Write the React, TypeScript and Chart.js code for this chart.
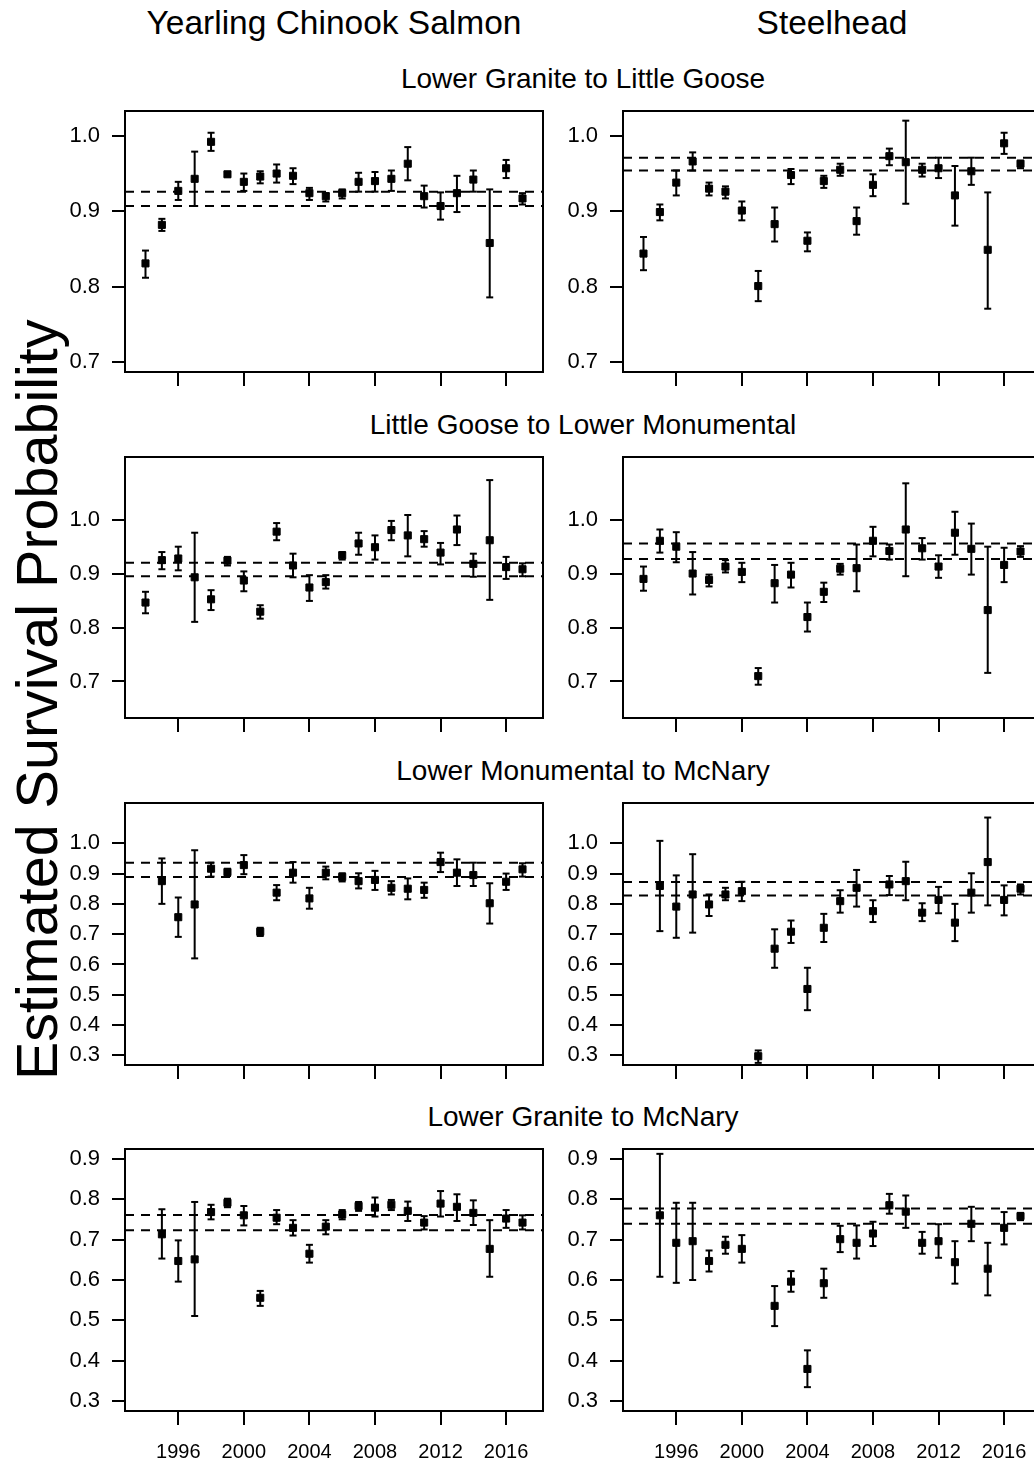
import React, { useEffect, useRef } from "react";
import { Chart, registerables } from "chart.js";

Chart.register(...registerables);

const FONT = '"Liberation Sans", Arial, Helvetica, sans-serif';

// ---------- categories / tick labels ----------
const YEARS_FROM_1994 = [1994, 1995, 1996, 1997, 1998, 1999, 2000, 2001, 2002, 2003, 2004, 2005, 2006, 2007, 2008, 2009, 2010, 2011, 2012, 2013, 2014, 2015, 2016, 2017];
const YEARS_FROM_1995 = [1995, 1996, 1997, 1998, 1999, 2000, 2001, 2002, 2003, 2004, 2005, 2006, 2007, 2008, 2009, 2010, 2011, 2012, 2013, 2014, 2015, 2016, 2017];
const X_TICKS = [1996, 2000, 2004, 2008, 2012, 2016];
const Y_TICKS_ROW1 = [0.7, 0.8, 0.9, 1.0];
const Y_TICKS_ROW2 = [0.7, 0.8, 0.9, 1.0];
const Y_TICKS_ROW3 = [0.3, 0.4, 0.5, 0.6, 0.7, 0.8, 0.9, 1.0];
const Y_TICKS_ROW4 = [0.3, 0.4, 0.5, 0.6, 0.7, 0.8, 0.9];

const COLUMN_TITLES = ["Yearling Chinook Salmon", "Steelhead"];
const REACH_TITLES = ["Lower Granite to Little Goose", "Little Goose to Lower Monumental", "Lower Monumental to McNary", "Lower Granite to McNary"];
const Y_LABEL = "Estimated Survival Probability";

// ---------- Row 1: Lower Granite to Little Goose ----------
const chinookLgrLgoEst = [0.831, 0.882, 0.927, 0.943, 0.992, 0.949, 0.939, 0.946, 0.950, 0.947, 0.924, 0.920, 0.924, 0.939, 0.940, 0.943, 0.963, 0.920, 0.907, 0.924, 0.942, 0.858, 0.957, 0.917];
const chinookLgrLgoLo = [0.812, 0.874, 0.915, 0.907, 0.980, 0.946, 0.927, 0.937, 0.938, 0.936, 0.915, 0.913, 0.917, 0.926, 0.926, 0.927, 0.941, 0.905, 0.889, 0.899, 0.926, 0.786, 0.944, 0.909];
const chinookLgrLgoHi = [0.848, 0.890, 0.939, 0.979, 1.004, 0.952, 0.950, 0.953, 0.962, 0.957, 0.931, 0.924, 0.929, 0.951, 0.952, 0.954, 0.985, 0.934, 0.925, 0.947, 0.954, 0.929, 0.968, 0.924];
const chinookLgrLgoRef = [0.926, 0.907];

const steelLgrLgoEst = [0.844, 0.899, 0.938, 0.966, 0.930, 0.926, 0.901, 0.801, 0.883, 0.948, 0.861, 0.940, 0.955, 0.887, 0.935, 0.973, 0.965, 0.955, 0.957, 0.921, 0.953, 0.849, 0.990, 0.963];
const steelLgrLgoLo = [0.822, 0.888, 0.921, 0.954, 0.921, 0.917, 0.888, 0.781, 0.860, 0.936, 0.847, 0.931, 0.947, 0.869, 0.920, 0.961, 0.910, 0.946, 0.944, 0.881, 0.935, 0.771, 0.976, 0.957];
const steelLgrLgoHi = [0.866, 0.909, 0.954, 0.978, 0.938, 0.933, 0.913, 0.821, 0.905, 0.956, 0.872, 0.947, 0.963, 0.905, 0.949, 0.983, 1.020, 0.963, 0.971, 0.960, 0.971, 0.925, 1.004, 0.967];
const steelLgrLgoRef = [0.971, 0.954];

// ---------- Row 2: Little Goose to Lower Monumental ----------
const chinookLgoLmnEst = [0.847, 0.926, 0.929, 0.894, 0.853, 0.925, 0.888, 0.830, 0.979, 0.916, 0.875, 0.885, 0.935, 0.957, 0.950, 0.982, 0.972, 0.965, 0.940, 0.983, 0.919, 0.963, 0.913, 0.909];
const chinookLgoLmnLo = [0.827, 0.909, 0.907, 0.811, 0.833, 0.916, 0.868, 0.817, 0.963, 0.894, 0.850, 0.873, 0.927, 0.936, 0.927, 0.963, 0.933, 0.951, 0.918, 0.954, 0.895, 0.852, 0.891, 0.896];
const chinookLgoLmnHi = [0.867, 0.941, 0.951, 0.977, 0.870, 0.932, 0.905, 0.842, 0.995, 0.938, 0.898, 0.898, 0.941, 0.977, 0.972, 0.999, 1.010, 0.980, 0.958, 1.009, 0.938, 1.075, 0.932, 0.920];
const chinookLgoLmnRef = [0.921, 0.896];

const steelLgoLmnEst = [0.891, 0.962, 0.951, 0.901, 0.889, 0.914, 0.904, 0.710, 0.883, 0.899, 0.820, 0.867, 0.910, 0.911, 0.962, 0.943, 0.983, 0.948, 0.914, 0.977, 0.947, 0.833, 0.917, 0.942];
const steelLgoLmnLo = [0.869, 0.940, 0.922, 0.862, 0.877, 0.903, 0.885, 0.694, 0.847, 0.875, 0.793, 0.848, 0.899, 0.868, 0.933, 0.927, 0.896, 0.927, 0.893, 0.936, 0.899, 0.716, 0.885, 0.932];
const steelLgoLmnHi = [0.914, 0.983, 0.978, 0.941, 0.899, 0.926, 0.921, 0.725, 0.917, 0.921, 0.847, 0.884, 0.919, 0.955, 0.988, 0.955, 1.069, 0.967, 0.935, 1.016, 0.994, 0.951, 0.949, 0.952];
const steelLgoLmnRef = [0.957, 0.928];

// ---------- Row 3: Lower Monumental to McNary ----------
const chinookLmnMcnEst = [0.875, 0.756, 0.798, 0.916, 0.905, 0.928, 0.708, 0.837, 0.903, 0.818, 0.903, 0.889, 0.875, 0.879, 0.853, 0.850, 0.846, 0.938, 0.903, 0.895, 0.802, 0.873, 0.914];
const chinookLmnMcnLo = [0.800, 0.691, 0.620, 0.890, 0.892, 0.898, 0.694, 0.812, 0.870, 0.784, 0.881, 0.874, 0.851, 0.846, 0.831, 0.815, 0.820, 0.905, 0.859, 0.859, 0.735, 0.846, 0.890];
const chinookLmnMcnHi = [0.950, 0.821, 0.977, 0.936, 0.916, 0.961, 0.721, 0.862, 0.938, 0.853, 0.923, 0.901, 0.901, 0.909, 0.875, 0.884, 0.870, 0.969, 0.947, 0.936, 0.868, 0.900, 0.934];
const chinookLmnMcnRef = [0.936, 0.889];

const steelLmnMcnEst = [0.859, 0.791, 0.831, 0.798, 0.831, 0.842, 0.297, 0.652, 0.708, 0.519, 0.721, 0.809, 0.853, 0.776, 0.864, 0.875, 0.771, 0.813, 0.738, 0.837, 0.938, 0.813, 0.850];
const steelLmnMcnLo = [0.710, 0.688, 0.705, 0.760, 0.812, 0.809, 0.275, 0.589, 0.671, 0.449, 0.674, 0.771, 0.791, 0.740, 0.829, 0.812, 0.743, 0.769, 0.677, 0.771, 0.795, 0.762, 0.831];
const steelLmnMcnHi = [1.008, 0.894, 0.964, 0.831, 0.853, 0.873, 0.316, 0.716, 0.745, 0.589, 0.767, 0.845, 0.912, 0.812, 0.892, 0.939, 0.802, 0.856, 0.800, 0.901, 1.085, 0.861, 0.864];
const steelLmnMcnRef = [0.872, 0.828];

// ---------- Row 4: Lower Granite to McNary ----------
const chinookLgrMcnEst = [0.713, 0.647, 0.651, 0.768, 0.791, 0.760, 0.556, 0.754, 0.729, 0.665, 0.732, 0.762, 0.783, 0.779, 0.786, 0.771, 0.742, 0.789, 0.781, 0.766, 0.677, 0.752, 0.742];
const chinookLgrMcnLo = [0.653, 0.596, 0.511, 0.750, 0.780, 0.735, 0.536, 0.738, 0.710, 0.643, 0.713, 0.750, 0.771, 0.757, 0.773, 0.746, 0.725, 0.757, 0.746, 0.736, 0.608, 0.729, 0.725];
const chinookLgrMcnHi = [0.775, 0.698, 0.793, 0.786, 0.801, 0.783, 0.573, 0.773, 0.748, 0.687, 0.748, 0.773, 0.793, 0.804, 0.798, 0.794, 0.758, 0.820, 0.812, 0.797, 0.748, 0.773, 0.760];
const chinookLgrMcnRef = [0.761, 0.723];

const steelLgrMcnEst = [0.760, 0.692, 0.696, 0.647, 0.687, 0.677, null, 0.536, 0.596, 0.380, 0.592, 0.701, 0.692, 0.715, 0.785, 0.769, 0.692, 0.696, 0.644, 0.739, 0.628, 0.729, 0.758];
const steelLgrMcnLo = [0.608, 0.593, 0.600, 0.621, 0.665, 0.643, null, 0.486, 0.571, 0.335, 0.556, 0.669, 0.653, 0.684, 0.764, 0.729, 0.665, 0.655, 0.591, 0.696, 0.562, 0.688, 0.748];
const steelLgrMcnHi = [0.912, 0.791, 0.791, 0.673, 0.707, 0.711, null, 0.585, 0.622, 0.426, 0.628, 0.734, 0.735, 0.744, 0.813, 0.809, 0.719, 0.738, 0.696, 0.781, 0.692, 0.768, 0.766];
const steelLgrMcnRef = [0.777, 0.739];

// ---------- layout (pixels) ----------
const X_MIN = 1992.75;
const X_MAX = 2018.25;
const Y_AXIS_W = 70;
const PAD_T = 4;
const PAD_R = 4;
const BOX_W = 418;
const COL_LEFT = [125, 623];
const ROW_BOX = [
  { top: 111, bottom: 372, yMin: 0.6872, yMax: 1.0328, ticks: Y_TICKS_ROW1, xLabels: false },
  { top: 457, bottom: 718, yMin: 0.632, yMax: 1.118, ticks: Y_TICKS_ROW2, xLabels: false },
  { top: 803, bottom: 1065, yMin: 0.268, yMax: 1.133, ticks: Y_TICKS_ROW3, xLabels: false },
  { top: 1149, bottom: 1411, yMin: 0.276, yMax: 0.924, ticks: Y_TICKS_ROW4, xLabels: true },
];

type Series = { years: number[]; est: (number | null)[]; lo: (number | null)[]; hi: (number | null)[]; ref: number[] };

const PANELS: Series[][] = [
  [
    { years: YEARS_FROM_1994, est: chinookLgrLgoEst, lo: chinookLgrLgoLo, hi: chinookLgrLgoHi, ref: chinookLgrLgoRef },
    { years: YEARS_FROM_1994, est: steelLgrLgoEst, lo: steelLgrLgoLo, hi: steelLgrLgoHi, ref: steelLgrLgoRef },
  ],
  [
    { years: YEARS_FROM_1994, est: chinookLgoLmnEst, lo: chinookLgoLmnLo, hi: chinookLgoLmnHi, ref: chinookLgoLmnRef },
    { years: YEARS_FROM_1994, est: steelLgoLmnEst, lo: steelLgoLmnLo, hi: steelLgoLmnHi, ref: steelLgoLmnRef },
  ],
  [
    { years: YEARS_FROM_1995, est: chinookLmnMcnEst, lo: chinookLmnMcnLo, hi: chinookLmnMcnHi, ref: chinookLmnMcnRef },
    { years: YEARS_FROM_1995, est: steelLmnMcnEst, lo: steelLmnMcnLo, hi: steelLmnMcnHi, ref: steelLmnMcnRef },
  ],
  [
    { years: YEARS_FROM_1995, est: chinookLgrMcnEst, lo: chinookLgrMcnLo, hi: chinookLgrMcnHi, ref: chinookLgrMcnRef },
    { years: YEARS_FROM_1995, est: steelLgrMcnEst, lo: steelLgrMcnLo, hi: steelLgrMcnHi, ref: steelLgrMcnRef },
  ],
];

const framePlugin = {
  id: "frameBox",
  afterDatasetsDraw(chart: any) {
    const { ctx, chartArea: a } = chart;
    ctx.save();
    ctx.strokeStyle = "#000";
    ctx.lineWidth = 2;
    ctx.strokeRect(a.left, a.top, a.right - a.left, a.bottom - a.top);
    ctx.restore();
  },
};

function Panel({ row, col }: { row: number; col: number }) {
  const ref = useRef<HTMLCanvasElement>(null);
  const rb = ROW_BOX[row];
  const s = PANELS[row][col];
  const xAxisH = rb.xLabels ? 62 : 16;
  const width = Y_AXIS_W + BOX_W + PAD_R;
  const height = PAD_T + (rb.bottom - rb.top) + xAxisH;
  const left = COL_LEFT[col] - Y_AXIS_W;
  const top = rb.top - PAD_T;

  useEffect(() => {
    const canvas = ref.current;
    if (!canvas) return;
    const errData: { x: number; y: number | null }[] = [];
    s.years.forEach((yr, i) => {
      const lo = s.lo[i];
      const hi = s.hi[i];
      if (lo == null || hi == null) return;
      errData.push({ x: yr, y: lo }, { x: yr, y: hi }, { x: yr, y: null });
    });
    const pts = s.years
      .map((yr, i) => ({ x: yr, y: s.est[i] }))
      .filter((p) => p.y != null);
    const refSets = s.ref.map((v) => ({
      type: "line" as const,
      data: [
        { x: X_MIN, y: v },
        { x: X_MAX, y: v },
      ],
      borderColor: "#000",
      borderWidth: 2,
      borderDash: [9, 7],
      pointRadius: 0,
      order: 3,
    }));
    const zeroPad = (sc: any) => {
      sc.paddingLeft = 0;
      sc.paddingRight = 0;
      sc.paddingTop = 0;
      sc.paddingBottom = 0;
    };
    const chart = new Chart(canvas, {
      type: "scatter",
      data: {
        datasets: [
          {
            type: "scatter",
            data: pts as any,
            pointStyle: "rect",
            pointRadius: 5,
            pointBackgroundColor: "#000",
            pointBorderColor: "#000",
            pointBorderWidth: 1,
            order: 0,
          },
          {
            type: "line",
            data: errData as any,
            borderColor: "#000",
            borderWidth: 2,
            spanGaps: false,
            pointStyle: "line",
            pointRadius: 3.5,
            pointBorderWidth: 2,
            pointBorderColor: "#000",
            order: 1,
          },
          ...(refSets as any[]),
        ],
      },
      options: {
        animation: false,
        responsive: false,
        devicePixelRatio: 1,
        events: [],
        layout: { padding: { left: 0, right: PAD_R, top: PAD_T, bottom: 0 }, autoPadding: false },
        plugins: { legend: { display: false }, tooltip: { enabled: false }, title: { display: false } },
        scales: {
          x: {
            type: "linear",
            min: X_MIN,
            max: X_MAX,
            offset: false,
            afterBuildTicks: (sc: any) => {
              sc.ticks = X_TICKS.map((v) => ({ value: v }));
            },
            afterFit: (sc: any) => {
              sc.height = xAxisH;
              zeroPad(sc);
            },
            border: { display: false },
            grid: { drawOnChartArea: false, drawTicks: true, tickLength: 14, lineWidth: 2, color: "#000" },
            ticks: {
              display: rb.xLabels,
              autoSkip: false,
              maxRotation: 0,
              minRotation: 0,
              padding: 15,
              color: "#000",
              font: { family: FONT, size: 20 },
              callback: (v: any) => String(v),
            },
          },
          y: {
            type: "linear",
            min: rb.yMin,
            max: rb.yMax,
            afterBuildTicks: (sc: any) => {
              sc.ticks = rb.ticks.map((v) => ({ value: v }));
            },
            afterFit: (sc: any) => {
              sc.width = Y_AXIS_W;
              zeroPad(sc);
            },
            border: { display: false },
            grid: { drawOnChartArea: false, drawTicks: true, tickLength: 13, lineWidth: 2, color: "#000" },
            ticks: {
              autoSkip: false,
              padding: 12,
              color: "#000",
              font: { family: FONT, size: 22 },
              callback: (v: any) => Number(v).toFixed(1),
            },
          },
        },
      },
      plugins: [framePlugin],
    } as any);
    return () => chart.destroy();
  }, []);

  return (
    <canvas
      ref={ref}
      width={width}
      height={height}
      style={{ position: "absolute", left, top, width, height, display: "block" }}
    />
  );
}

export default function App() {
  const headerFont = 33.5;
  const titleFont = 28;
  const ylabFont = 57.5;
  return (
    <div
      style={{
        position: "absolute",
        left: 0,
        top: 0,
        width: 1034,
        height: 1467,
        overflow: "hidden",
        background: "#fff",
        fontFamily: FONT,
        color: "#000",
      }}
    >
      {COLUMN_TITLES.map((t, c) => (
        <div
          key={t}
          style={{
            position: "absolute",
            left: COL_LEFT[c] + BOX_W / 2 - 300,
            width: 600,
            top: 34.3 - 0.8465 * headerFont,
            fontSize: headerFont,
            lineHeight: `${headerFont}px`,
            textAlign: "center",
            whiteSpace: "nowrap",
          }}
        >
          {t}
        </div>
      ))}
      {REACH_TITLES.map((t, r) => (
        <div
          key={t}
          style={{
            position: "absolute",
            left: (COL_LEFT[0] + BOX_W + COL_LEFT[1]) / 2 - 300,
            width: 600,
            top: 88.3 + 346 * r - 0.8465 * titleFont,
            fontSize: titleFont,
            lineHeight: `${titleFont}px`,
            textAlign: "center",
            whiteSpace: "nowrap",
          }}
        >
          {t}
        </div>
      ))}
      <div
        style={{
          position: "absolute",
          left: 38 - 450,
          top: 700 - ylabFont / 2,
          width: 900,
          height: ylabFont,
          fontSize: ylabFont,
          lineHeight: `${ylabFont}px`,
          textAlign: "center",
          whiteSpace: "nowrap",
          transform: "rotate(-90deg)",
          transformOrigin: "50% 50%",
        }}
      >
        {Y_LABEL}
      </div>
      {ROW_BOX.map((_, r) =>
        [0, 1].map((c) => <Panel key={`${r}-${c}`} row={r} col={c} />)
      )}
    </div>
  );
}
